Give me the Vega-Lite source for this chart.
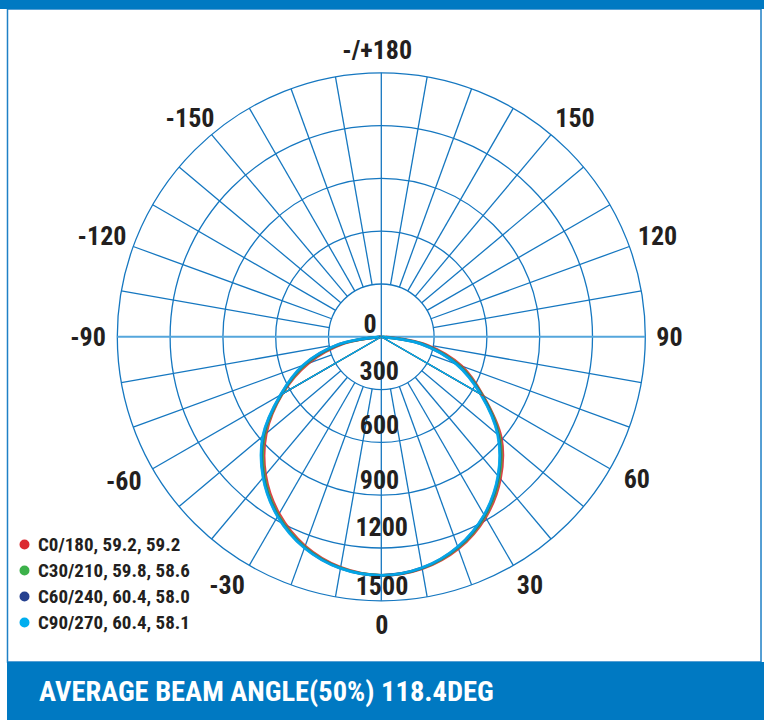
{
  "$schema": "https://vega.github.io/schema/vega-lite/v6.json",
  "width": 764,
  "height": 720,
  "autosize": "none",
  "padding": 0,
  "background": "white",
  "config": {"view": {"stroke": null}},
  "datasets": {
    "rings": [{"ring": 300}, {"ring": 600}, {"ring": 900}, {"ring": 1200}, {"ring": 1500}],
    "spokes": [
      {"x1": 52.1, "y1": 295.4, "x2": 260.5, "y2": 1477.2}, {"x1": -52.1, "y1": 295.4, "x2": -260.5, "y2": 1477.2}, {"x1": 52.1, "y1": -295.4, "x2": 260.5, "y2": -1477.2}, {"x1": -52.1, "y1": -295.4, "x2": -260.5, "y2": -1477.2},
      {"x1": 102.6, "y1": 281.9, "x2": 513.0, "y2": 1409.5}, {"x1": -102.6, "y1": 281.9, "x2": -513.0, "y2": 1409.5}, {"x1": 102.6, "y1": -281.9, "x2": 513.0, "y2": -1409.5}, {"x1": -102.6, "y1": -281.9, "x2": -513.0, "y2": -1409.5},
      {"x1": 150.0, "y1": 259.8, "x2": 750.0, "y2": 1299.0}, {"x1": -150.0, "y1": 259.8, "x2": -750.0, "y2": 1299.0}, {"x1": 150.0, "y1": -259.8, "x2": 750.0, "y2": -1299.0}, {"x1": -150.0, "y1": -259.8, "x2": -750.0, "y2": -1299.0},
      {"x1": 192.8, "y1": 229.8, "x2": 964.2, "y2": 1149.1}, {"x1": -192.8, "y1": 229.8, "x2": -964.2, "y2": 1149.1}, {"x1": 192.8, "y1": -229.8, "x2": 964.2, "y2": -1149.1}, {"x1": -192.8, "y1": -229.8, "x2": -964.2, "y2": -1149.1},
      {"x1": 229.8, "y1": 192.8, "x2": 1149.1, "y2": 964.2}, {"x1": -229.8, "y1": 192.8, "x2": -1149.1, "y2": 964.2}, {"x1": 229.8, "y1": -192.8, "x2": 1149.1, "y2": -964.2}, {"x1": -229.8, "y1": -192.8, "x2": -1149.1, "y2": -964.2},
      {"x1": 259.8, "y1": 150.0, "x2": 1299.0, "y2": 750.0}, {"x1": -259.8, "y1": 150.0, "x2": -1299.0, "y2": 750.0}, {"x1": 259.8, "y1": -150.0, "x2": 1299.0, "y2": -750.0}, {"x1": -259.8, "y1": -150.0, "x2": -1299.0, "y2": -750.0},
      {"x1": 281.9, "y1": 102.6, "x2": 1409.5, "y2": 513.0}, {"x1": -281.9, "y1": 102.6, "x2": -1409.5, "y2": 513.0}, {"x1": 281.9, "y1": -102.6, "x2": 1409.5, "y2": -513.0}, {"x1": -281.9, "y1": -102.6, "x2": -1409.5, "y2": -513.0},
      {"x1": 295.4, "y1": 52.1, "x2": 1477.2, "y2": 260.5}, {"x1": -295.4, "y1": 52.1, "x2": -1477.2, "y2": 260.5}, {"x1": 295.4, "y1": -52.1, "x2": 1477.2, "y2": -260.5}, {"x1": -295.4, "y1": -52.1, "x2": -1477.2, "y2": -260.5},
      {"x1": 0, "y1": -1500, "x2": 0, "y2": 1500}
    ],
    "axes": [{"x1": -1500, "y1": 0, "x2": 1500, "y2": 0}],
    "curves": [
      {"series": "C0/180, 59.2, 59.2", "gamma": -90, "cd": 0, "x": 0, "y": 0},
      {"series": "C0/180, 59.2, 59.2", "gamma": -80, "cd": 212, "x": -208.8, "y": -36.8},
      {"series": "C0/180, 59.2, 59.2", "gamma": -70, "cd": 441, "x": -414.4, "y": -150.8},
      {"series": "C0/180, 59.2, 59.2", "gamma": -60, "cd": 650, "x": -562.9, "y": -325.0},
      {"series": "C0/180, 59.2, 59.2", "gamma": -50, "cd": 853, "x": -653.4, "y": -548.3},
      {"series": "C0/180, 59.2, 59.2", "gamma": -40, "cd": 1023, "x": -657.6, "y": -783.7},
      {"series": "C0/180, 59.2, 59.2", "gamma": -30, "cd": 1161, "x": -580.5, "y": -1005.5},
      {"series": "C0/180, 59.2, 59.2", "gamma": -20, "cd": 1265, "x": -432.7, "y": -1188.7},
      {"series": "C0/180, 59.2, 59.2", "gamma": -10, "cd": 1330, "x": -231.0, "y": -1309.8},
      {"series": "C0/180, 59.2, 59.2", "gamma": 0, "cd": 1355, "x": 0, "y": -1355},
      {"series": "C0/180, 59.2, 59.2", "gamma": 10, "cd": 1338, "x": 232.3, "y": -1317.7},
      {"series": "C0/180, 59.2, 59.2", "gamma": 20, "cd": 1281, "x": 438.1, "y": -1203.7},
      {"series": "C0/180, 59.2, 59.2", "gamma": 30, "cd": 1185, "x": 592.5, "y": -1026.2},
      {"series": "C0/180, 59.2, 59.2", "gamma": 40, "cd": 1053, "x": 676.9, "y": -806.6},
      {"series": "C0/180, 59.2, 59.2", "gamma": 50, "cd": 889, "x": 681.0, "y": -571.4},
      {"series": "C0/180, 59.2, 59.2", "gamma": 60, "cd": 668, "x": 578.5, "y": -334.0},
      {"series": "C0/180, 59.2, 59.2", "gamma": 70, "cd": 486, "x": 456.7, "y": -166.2},
      {"series": "C0/180, 59.2, 59.2", "gamma": 80, "cd": 259, "x": 255.1, "y": -45.0},
      {"series": "C0/180, 59.2, 59.2", "gamma": 90, "cd": 24, "x": 24, "y": 0},
      {"series": "C30/210, 59.8, 58.6", "gamma": -90, "cd": 0, "x": 0, "y": 0},
      {"series": "C30/210, 59.8, 58.6", "gamma": -80, "cd": 228, "x": -224.8, "y": -39.6},
      {"series": "C30/210, 59.8, 58.6", "gamma": -70, "cd": 457, "x": -429.3, "y": -156.2},
      {"series": "C30/210, 59.8, 58.6", "gamma": -60, "cd": 655, "x": -567.3, "y": -327.5},
      {"series": "C30/210, 59.8, 58.6", "gamma": -50, "cd": 866, "x": -663.1, "y": -556.4},
      {"series": "C30/210, 59.8, 58.6", "gamma": -40, "cd": 1033, "x": -664.3, "y": -791.6},
      {"series": "C30/210, 59.8, 58.6", "gamma": -30, "cd": 1170, "x": -585.0, "y": -1013.2},
      {"series": "C30/210, 59.8, 58.6", "gamma": -20, "cd": 1271, "x": -434.7, "y": -1194.3},
      {"series": "C30/210, 59.8, 58.6", "gamma": -10, "cd": 1333, "x": -231.5, "y": -1312.9},
      {"series": "C30/210, 59.8, 58.6", "gamma": 0, "cd": 1355, "x": 0, "y": -1355},
      {"series": "C30/210, 59.8, 58.6", "gamma": 10, "cd": 1336, "x": 231.9, "y": -1315.3},
      {"series": "C30/210, 59.8, 58.6", "gamma": 20, "cd": 1276, "x": 436.3, "y": -1198.8},
      {"series": "C30/210, 59.8, 58.6", "gamma": 30, "cd": 1177, "x": 588.5, "y": -1019.3},
      {"series": "C30/210, 59.8, 58.6", "gamma": 40, "cd": 1043, "x": 670.2, "y": -798.7},
      {"series": "C30/210, 59.8, 58.6", "gamma": 50, "cd": 876, "x": 671.4, "y": -563.3},
      {"series": "C30/210, 59.8, 58.6", "gamma": 60, "cd": 662, "x": 573.3, "y": -331.0},
      {"series": "C30/210, 59.8, 58.6", "gamma": 70, "cd": 470, "x": 441.7, "y": -160.8},
      {"series": "C30/210, 59.8, 58.6", "gamma": 80, "cd": 242, "x": 238.6, "y": -42.1},
      {"series": "C30/210, 59.8, 58.6", "gamma": 90, "cd": 7, "x": 7.1, "y": 0},
      {"series": "C60/240, 60.4, 58.0", "gamma": -90, "cd": 6, "x": -5.9, "y": 0},
      {"series": "C60/240, 60.4, 58.0", "gamma": -80, "cd": 241, "x": -237.4, "y": -41.9},
      {"series": "C60/240, 60.4, 58.0", "gamma": -70, "cd": 469, "x": -440.7, "y": -160.4},
      {"series": "C60/240, 60.4, 58.0", "gamma": -60, "cd": 660, "x": -571.6, "y": -330.0},
      {"series": "C60/240, 60.4, 58.0", "gamma": -50, "cd": 876, "x": -670.7, "y": -562.8},
      {"series": "C60/240, 60.4, 58.0", "gamma": -40, "cd": 1042, "x": -669.7, "y": -798.1},
      {"series": "C60/240, 60.4, 58.0", "gamma": -30, "cd": 1177, "x": -588.3, "y": -1018.9},
      {"series": "C60/240, 60.4, 58.0", "gamma": -20, "cd": 1275, "x": -436.2, "y": -1198.4},
      {"series": "C60/240, 60.4, 58.0", "gamma": -10, "cd": 1335, "x": -231.9, "y": -1315.1},
      {"series": "C60/240, 60.4, 58.0", "gamma": 0, "cd": 1355, "x": 0, "y": -1355},
      {"series": "C60/240, 60.4, 58.0", "gamma": 10, "cd": 1333, "x": 231.5, "y": -1313.1},
      {"series": "C60/240, 60.4, 58.0", "gamma": 20, "cd": 1271, "x": 434.8, "y": -1194.6},
      {"series": "C60/240, 60.4, 58.0", "gamma": 30, "cd": 1171, "x": 585.3, "y": -1013.7},
      {"series": "C60/240, 60.4, 58.0", "gamma": 40, "cd": 1034, "x": 664.8, "y": -792.2},
      {"series": "C60/240, 60.4, 58.0", "gamma": 50, "cd": 867, "x": 663.8, "y": -557.0},
      {"series": "C60/240, 60.4, 58.0", "gamma": 60, "cd": 656, "x": 568.1, "y": -328.0},
      {"series": "C60/240, 60.4, 58.0", "gamma": 70, "cd": 458, "x": 430.2, "y": -156.6},
      {"series": "C60/240, 60.4, 58.0", "gamma": 80, "cd": 230, "x": 226.0, "y": -39.9},
      {"series": "C60/240, 60.4, 58.0", "gamma": 90, "cd": 0, "x": 0, "y": 0},
      {"series": "C90/270, 60.4, 58.1", "gamma": -90, "cd": 11, "x": -10.6, "y": 0},
      {"series": "C90/270, 60.4, 58.1", "gamma": -80, "cd": 246, "x": -242.1, "y": -42.7},
      {"series": "C90/270, 60.4, 58.1", "gamma": -70, "cd": 473, "x": -444.9, "y": -161.9},
      {"series": "C90/270, 60.4, 58.1", "gamma": -60, "cd": 662, "x": -573.3, "y": -331.0},
      {"series": "C90/270, 60.4, 58.1", "gamma": -50, "cd": 879, "x": -673.5, "y": -565.1},
      {"series": "C90/270, 60.4, 58.1", "gamma": -40, "cd": 1045, "x": -671.6, "y": -800.4},
      {"series": "C90/270, 60.4, 58.1", "gamma": -30, "cd": 1179, "x": -589.4, "y": -1020.9},
      {"series": "C90/270, 60.4, 58.1", "gamma": -20, "cd": 1277, "x": -436.7, "y": -1199.9},
      {"series": "C90/270, 60.4, 58.1", "gamma": -10, "cd": 1336, "x": -232.0, "y": -1316.0},
      {"series": "C90/270, 60.4, 58.1", "gamma": 0, "cd": 1355, "x": 0, "y": -1355},
      {"series": "C90/270, 60.4, 58.1", "gamma": 10, "cd": 1333, "x": 231.4, "y": -1312.3},
      {"series": "C90/270, 60.4, 58.1", "gamma": 20, "cd": 1270, "x": 434.3, "y": -1193.1},
      {"series": "C90/270, 60.4, 58.1", "gamma": 30, "cd": 1168, "x": 584.1, "y": -1011.7},
      {"series": "C90/270, 60.4, 58.1", "gamma": 40, "cd": 1031, "x": 662.9, "y": -789.9},
      {"series": "C90/270, 60.4, 58.1", "gamma": 50, "cd": 863, "x": 660.9, "y": -554.6},
      {"series": "C90/270, 60.4, 58.1", "gamma": 60, "cd": 652, "x": 564.6, "y": -326.0},
      {"series": "C90/270, 60.4, 58.1", "gamma": 70, "cd": 453, "x": 426.1, "y": -155.1},
      {"series": "C90/270, 60.4, 58.1", "gamma": 80, "cd": 225, "x": 221.4, "y": -39.0},
      {"series": "C90/270, 60.4, 58.1", "gamma": 90, "cd": 0, "x": 0, "y": 0}
    ],
    "chords": [
      {"series": "C0/180, 59.2, 59.2", "gamma": -60, "cd": 650, "x": -562.9, "y": -325.0, "x0": 0, "y0": 0},
      {"series": "C0/180, 59.2, 59.2", "gamma": 60, "cd": 668, "x": 578.5, "y": -334.0, "x0": 0, "y0": 0},
      {"series": "C30/210, 59.8, 58.6", "gamma": -60, "cd": 655, "x": -567.3, "y": -327.5, "x0": 0, "y0": 0},
      {"series": "C30/210, 59.8, 58.6", "gamma": 60, "cd": 662, "x": 573.3, "y": -331.0, "x0": 0, "y0": 0},
      {"series": "C60/240, 60.4, 58.0", "gamma": -60, "cd": 660, "x": -571.6, "y": -330.0, "x0": 0, "y0": 0},
      {"series": "C60/240, 60.4, 58.0", "gamma": 60, "cd": 656, "x": 568.1, "y": -328.0, "x0": 0, "y0": 0},
      {"series": "C90/270, 60.4, 58.1", "gamma": -60, "cd": 662, "x": -573.3, "y": -331.0, "x0": 0, "y0": 0},
      {"series": "C90/270, 60.4, 58.1", "gamma": 60, "cd": 652, "x": 564.6, "y": -326.0, "x0": 0, "y0": 0}
    ],
    "frame": [{"x1": -2123.9, "x2": 2157.4, "y1": 1862.5, "y2": -1847.7}],
    "bars": [
      {"x1": -2166.5, "x2": 2174.4, "y1": 1913.6, "y2": 1862.5},
      {"x1": -2126.7, "x2": 2174.4, "y1": -1847.7, "y2": -2177.3}
    ],
    "title": [{"title": "AVERAGE BEAM ANGLE(50%) 118.4DEG", "x": -1944.9, "y": -2021.0}],
    "labels": [
      {"label": "-/+180", "x": -23.3, "y": 1625.0},
      {"label": "150", "x": 1100.6, "y": 1237.5},
      {"label": "-150", "x": -1086.9, "y": 1237.5},
      {"label": "120", "x": 1569.3, "y": 568.8},
      {"label": "-120", "x": -1586.9, "y": 568.8},
      {"label": "90", "x": 1637.5, "y": -6.8},
      {"label": "-90", "x": -1666.5, "y": -6.8},
      {"label": "60", "x": 1451.7, "y": -815.3},
      {"label": "-60", "x": -1463.6, "y": -823.3},
      {"label": "30", "x": 844.9, "y": -1415.9},
      {"label": "-30", "x": -876.7, "y": -1417.6},
      {"label": "0", "x": 2.3, "y": -1642.0},
      {"label": "0", "x": -64.2, "y": 68.8},
      {"label": "300", "x": -11.9, "y": -201.1},
      {"label": "600", "x": -10.2, "y": -508.0},
      {"label": "900", "x": -10.2, "y": -820.5},
      {"label": "1200", "x": 2.3, "y": -1085.2},
      {"label": "1500", "x": 4.0, "y": -1419.9}
    ]
  },
  "layer": [
    {
      "data": {"name": "frame"},
      "mark": {"type": "rect", "fill": "white", "stroke": "#1f80c6", "strokeWidth": 1.5},
      "encoding": {
        "x": {"field": "x1", "type": "quantitative", "scale": {"domain": [-2166.5, 2174.4], "nice": false, "zero": false}, "axis": null},
        "x2": {"field": "x2"},
        "y": {"field": "y1", "type": "quantitative", "scale": {"domain": [-2177.3, 1913.6], "nice": false, "zero": false}, "axis": null},
        "y2": {"field": "y2"}
      }
    },
    {
      "data": {"name": "bars"},
      "mark": {"type": "rect", "fill": "#0079c2"},
      "encoding": {
        "x": {"field": "x1", "type": "quantitative", "scale": {"domain": [-2166.5, 2174.4], "nice": false, "zero": false}, "axis": null},
        "x2": {"field": "x2"},
        "y": {"field": "y1", "type": "quantitative", "scale": {"domain": [-2177.3, 1913.6], "nice": false, "zero": false}, "axis": null},
        "y2": {"field": "y2"}
      }
    },
    {
      "data": {"name": "rings"},
      "mark": {"type": "point", "shape": "circle", "filled": false, "stroke": "#1577c0", "strokeWidth": 1.3, "opacity": 1},
      "encoding": {
        "x": {"datum": 0, "type": "quantitative", "scale": {"domain": [-2166.5, 2174.4], "nice": false, "zero": false}, "axis": null},
        "y": {"datum": 0, "type": "quantitative", "scale": {"domain": [-2177.3, 1913.6], "nice": false, "zero": false}, "axis": null},
        "size": {"field": "ring", "type": "quantitative", "scale": {"type": "pow", "exponent": 2, "domain": [0, 1500], "range": [0, 278784]}, "legend": null}
      }
    },
    {
      "data": {"name": "spokes"},
      "mark": {"type": "rule", "stroke": "#1577c0", "strokeWidth": 1.3},
      "encoding": {
        "x": {"field": "x1", "type": "quantitative", "scale": {"domain": [-2166.5, 2174.4], "nice": false, "zero": false}, "axis": null},
        "y": {"field": "y1", "type": "quantitative", "scale": {"domain": [-2177.3, 1913.6], "nice": false, "zero": false}, "axis": null},
        "x2": {"field": "x2"},
        "y2": {"field": "y2"}
      }
    },
    {
      "data": {"name": "axes"},
      "mark": {"type": "rule", "stroke": "#55a6dc", "strokeWidth": 2},
      "encoding": {
        "x": {"field": "x1", "type": "quantitative", "scale": {"domain": [-2166.5, 2174.4], "nice": false, "zero": false}, "axis": null},
        "y": {"field": "y1", "type": "quantitative", "scale": {"domain": [-2177.3, 1913.6], "nice": false, "zero": false}, "axis": null},
        "x2": {"field": "x2"},
        "y2": {"field": "y2"}
      }
    },
    {
      "data": {"name": "curves"},
      "mark": {"type": "line", "strokeWidth": 2.8, "interpolate": "catmull-rom", "opacity": 0.9},
      "encoding": {
        "x": {"field": "x", "type": "quantitative", "scale": {"domain": [-2166.5, 2174.4], "nice": false, "zero": false}, "axis": null},
        "y": {"field": "y", "type": "quantitative", "scale": {"domain": [-2177.3, 1913.6], "nice": false, "zero": false}, "axis": null},
        "order": {"field": "gamma", "type": "quantitative"},
        "color": {
          "field": "series",
          "type": "nominal",
          "scale": {
            "domain": ["C0/180, 59.2, 59.2", "C30/210, 59.8, 58.6", "C60/240, 60.4, 58.0", "C90/270, 60.4, 58.1"],
            "range": ["#db2a30", "#3cb14a", "#25408f", "#00aeef"]
          },
          "legend": {
            "title": null,
            "orient": "none",
            "legendX": 15,
            "legendY": 535,
            "padding": 0,
            "symbolType": "circle",
            "symbolSize": 25,
            "symbolStrokeWidth": 5,
            "symbolOpacity": 1,
            "labelFont": "Roboto Condensed, Liberation Sans Narrow, Liberation Sans",
            "labelFontSize": 19,
            "labelFontWeight": "bold",
            "labelColor": "#231f20",
            "labelOffset": 4,
            "labelLimit": 300,
            "rowPadding": 1
          }
        }
      }
    },
    {
      "data": {"name": "chords"},
      "mark": {"type": "rule", "strokeWidth": 1.3},
      "encoding": {
        "x": {"field": "x", "type": "quantitative", "scale": {"domain": [-2166.5, 2174.4], "nice": false, "zero": false}, "axis": null},
        "y": {"field": "y", "type": "quantitative", "scale": {"domain": [-2177.3, 1913.6], "nice": false, "zero": false}, "axis": null},
        "x2": {"field": "x0"},
        "y2": {"field": "y0"},
        "color": {"field": "series", "type": "nominal", "legend": null}
      }
    },
    {
      "data": {"name": "labels"},
      "mark": {"type": "text", "font": "Roboto Condensed, Liberation Sans Narrow, Liberation Sans", "fontSize": 26, "fontWeight": "bold", "fill": "#231f20", "align": "center", "baseline": "middle"},
      "encoding": {
        "x": {"field": "x", "type": "quantitative", "scale": {"domain": [-2166.5, 2174.4], "nice": false, "zero": false}, "axis": null},
        "y": {"field": "y", "type": "quantitative", "scale": {"domain": [-2177.3, 1913.6], "nice": false, "zero": false}, "axis": null},
        "text": {"field": "label", "type": "nominal"}
      }
    },
    {
      "data": {"name": "title"},
      "mark": {"type": "text", "font": "Roboto Condensed, Liberation Sans Narrow, Liberation Sans", "fontSize": 28.5, "fontWeight": "bold", "fill": "white", "align": "left", "baseline": "middle"},
      "encoding": {
        "x": {"field": "x", "type": "quantitative", "scale": {"domain": [-2166.5, 2174.4], "nice": false, "zero": false}, "axis": null},
        "y": {"field": "y", "type": "quantitative", "scale": {"domain": [-2177.3, 1913.6], "nice": false, "zero": false}, "axis": null},
        "text": {"field": "title", "type": "nominal"}
      }
    }
  ]
}
